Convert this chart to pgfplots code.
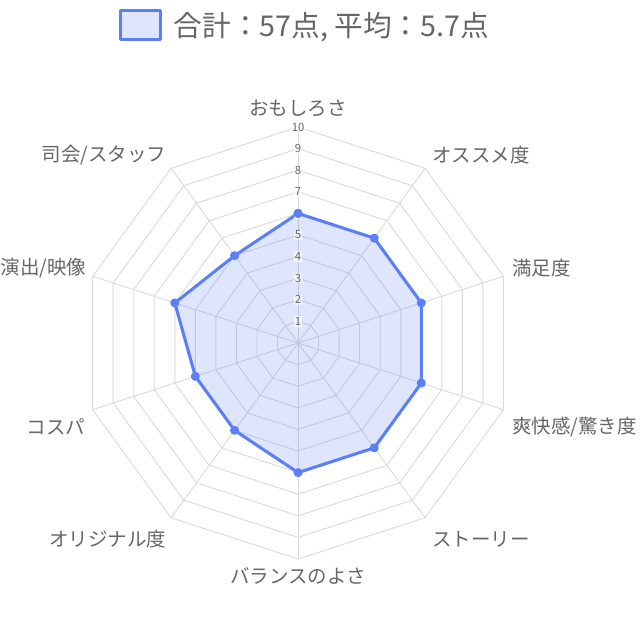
\documentclass[border=0pt]{standalone}
\usepackage{pgfplots}
\usepackage{pgfplotstable}
\pgfplotsset{compat=1.18}
\usepackage{fontspec}
\setmainfont{Noto Sans CJK JP}
\definecolor{linec}{HTML}{5B7FF7}
\definecolor{txt}{HTML}{666666}
\definecolor{gridc}{HTML}{DADADA}
\pgfplotstableread{
ang val
90 6
54 6
18 6
-18 6
-54 6
-90 6
-126 5
-162 5
162 6
126 5
90 6
}\datatable
\begin{document}
\begin{tikzpicture}
\begin{axis}[
  width=480pt, height=480pt, scale only axis,
  xmin=-13.8, xmax=15.83, ymin=-13.75, ymax=15.88,
  hide axis, clip=false,
  legend style={at={(axis cs:-8.3,14.72)}, anchor=west, draw=none, fill=none,
    font=\fontsize{21.5}{24}\selectfont\color{txt}, inner sep=0pt,
    /tikz/every even column/.append style={column sep=4pt}},
  legend image code/.code={\draw[fill=linec, fill opacity=0.2, draw=linec, line width=2pt] (0pt,-11pt) rectangle (30pt,11pt);},
  legend cell align=left,
]
\draw[draw=none] (rel axis cs:0,0) rectangle (rel axis cs:1,1);
\pgfplotsinvokeforeach{1,2,3,4,5,6,7,8,9,10}{
  \addplot[gridc, line width=0.7pt, data cs=polar, forget plot] coordinates {(90,#1)(54,#1)(18,#1)(-18,#1)(-54,#1)(-90,#1)(-126,#1)(-162,#1)(162,#1)(126,#1)(90,#1)};
}
\pgfplotsinvokeforeach{90,54,18,-18,-54,-90,-126,-162,162,126}{
  \addplot[gridc, line width=0.7pt, data cs=polar, forget plot] coordinates {(#1,0) (#1,10)};
}
\addplot[draw=linec, line width=2.3pt, line join=round, fill=linec, fill opacity=0.2, draw opacity=1,
  mark=*, mark size=2.2pt, mark options={fill=linec, draw=linec, fill opacity=1}, data cs=polar]
  table[x=ang, y=val] {\datatable};
\addlegendentry{\hspace{7pt}合計：57点, 平均：5.7点}
\pgfplotsinvokeforeach{1,2,3,4,5,6,7,8,9,10}{
  \node[font=\fontsize{8.5}{9}\selectfont, text=txt, fill=white, fill opacity=0.6, text opacity=1, inner sep=0.8pt] at (axis cs:0,#1) {#1};
}
\begin{scope}[every node/.style={font=\fontsize{14.6}{16}\selectfont, text=txt, inner sep=0pt}]
\node[anchor=south] at (axis cs:0,10.45) {おもしろさ};
\node[anchor=west] at (axis cs:6.2,8.7) {オススメ度};
\node[anchor=west] at (axis cs:9.9,3.47) {満足度};
\node[anchor=west] at (axis cs:9.9,-3.9) {爽快感/驚き度};
\node[anchor=west] at (axis cs:6.2,-9.1) {ストーリー};
\node[anchor=north] at (axis cs:0,-10.4) {バランスのよさ};
\node[anchor=east] at (axis cs:-6.1,-9.1) {オリジナル度};
\node[anchor=east] at (axis cs:-9.85,-3.9) {コスパ};
\node[anchor=east] at (axis cs:-9.8,3.47) {演出/映像};
\node[anchor=east] at (axis cs:-6.1,8.7) {司会/スタッフ};
\end{scope}
\end{axis}
\end{tikzpicture}
\end{document}
